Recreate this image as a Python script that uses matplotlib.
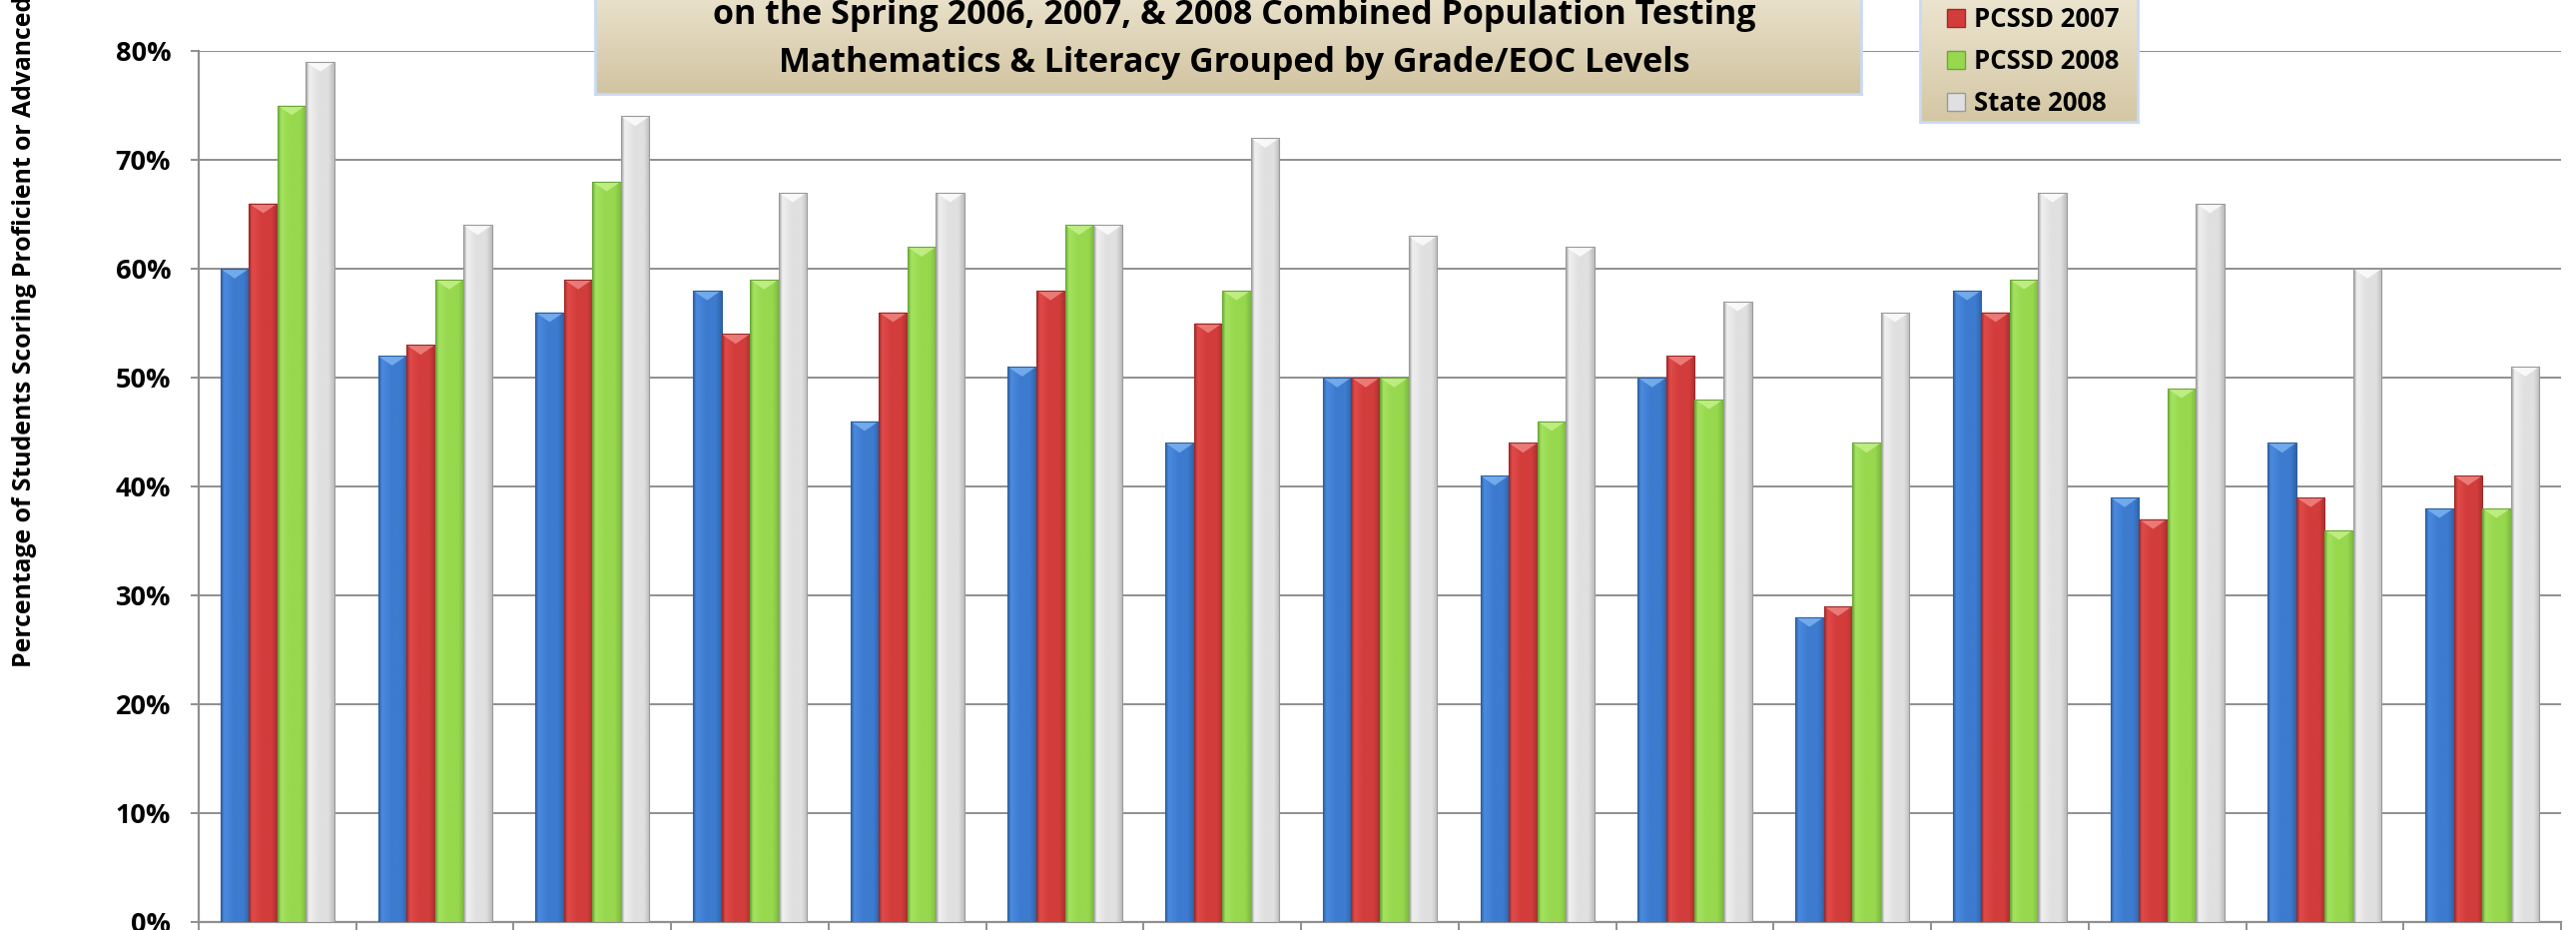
"""Grouped bar chart: PCSSD 2006/2007/2008 vs State 2008, percent proficient
or advanced, Mathematics & Literacy grouped by grade/EOC level."""

import matplotlib

matplotlib.use("Agg")

import matplotlib.pyplot as plt
import numpy as np
from matplotlib.colors import LinearSegmentedColormap, to_rgb
from matplotlib.patches import Polygon
from matplotlib.ticker import FixedLocator, PercentFormatter

# values, one entry per grade/EOC group (left to right)
pcssd_2006 = [60, 52, 56, 58, 46, 51, 44, 50, 41, 50, 28, 58, 39, 44, 38]
pcssd_2007 = [66, 53, 59, 54, 56, 58, 55, 50, 44, 52, 29, 56, 37, 39, 41]
pcssd_2008 = [75, 59, 68, 59, 62, 64, 58, 50, 46, 48, 44, 59, 49, 36, 38]
state_2008 = [79, 64, 74, 67, 67, 64, 72, 63, 62, 57, 56, 67, 66, 60, 51]

series_names = ["PCSSD 2006", "PCSSD 2007", "PCSSD 2008", "State 2008"]
series_values = [pcssd_2006, pcssd_2007, pcssd_2008, state_2008]
y_ticks = [0, 10, 20, 30, 40, 50, 60, 70, 80]

title_lines = [
    "on the Spring 2006, 2007, & 2008 Combined Population Testing",
    "Mathematics & Literacy Grouped by Grade/EOC Levels",
]
y_label = "Percentage of Students Scoring Proficient or Advanced"

# (edge, light, base, dark, bevel) shades per series for the bevelled bar look
bar_shades = [
    ("#2c5f9e", "#4a8ae0", "#3d7bcf", "#2f64a8", "#7fb6f2"),
    ("#9e2a2a", "#e04a48", "#d23d3c", "#a83130", "#f08a86"),
    ("#6aa83a", "#a4e25e", "#97d84e", "#7cbc3e", "#c8f28e"),
    ("#9a9a9a", "#f0f0f0", "#e0e0e0", "#bdbdbd", "#ffffff"),
]

FONT = ["Open Sans", "DejaVu Sans"]
W, H = 2580, 931


def shade_bar(ax, patch, shades):
    edge, light, base, dark, bevel = shades
    cmap = LinearSegmentedColormap.from_list(
        "bar", [(0, edge), (0.12, light), (0.45, base), (0.8, base), (1.0, dark)]
    )
    x0, y0 = patch.get_x(), patch.get_y()
    w, h = patch.get_width(), patch.get_height()
    grad = np.linspace(0, 1, 64).reshape(1, -1)
    im = ax.imshow(grad, cmap=cmap, aspect="auto", zorder=3,
                   extent=(x0, x0 + w, y0, y0 + h))
    im.set_clip_path(patch)
    # light chevron on the bar's top face
    top = y0 + h
    ax.add_patch(Polygon([(x0, top), (x0 + w, top), (x0 + w / 2, top - 0.9)],
                         closed=True, facecolor=bevel, edgecolor="none",
                         alpha=0.8, zorder=3.5))
    patch.set_facecolor("none")
    patch.set_edgecolor(edge)
    patch.set_linewidth(0.8)
    patch.set_zorder(4)


def gradient_box(fig, rect, top, bottom, border):
    box = fig.add_axes(rect, zorder=5)
    c0, c1 = np.array(to_rgb(top)), np.array(to_rgb(bottom))
    t = np.linspace(0, 1, 128).reshape(-1, 1, 1)
    box.imshow(c0 + (c1 - c0) * t, aspect="auto", extent=(0, 1, 0, 1))
    box.set_xticks([])
    box.set_yticks([])
    for spine in box.spines.values():
        spine.set_color(border)
        spine.set_linewidth(2)
    return box


fig = plt.figure(figsize=(W / 100, H / 100), dpi=100)
ax = fig.add_axes([199 / W, 8 / H, (2565 - 199) / W, (923 - 51) / H])

n = len(pcssd_2006)
x = np.arange(n)
width = 0.181
legend_handles = []
for i, (name, values, shades) in enumerate(zip(series_names, series_values, bar_shades)):
    bars = ax.bar(x + (i - 1.5) * width, values, width, label=name)
    for patch in bars:
        shade_bar(ax, patch, shades)
    legend_handles.append(
        plt.Rectangle((0, 0), 1, 1, facecolor=shades[2], edgecolor=shades[0], linewidth=1)
    )

ax.set_xlim(-0.5, n - 0.5)
ax.set_ylim(0, 80)
ax.yaxis.set_major_locator(FixedLocator(y_ticks))
ax.yaxis.set_major_formatter(PercentFormatter(decimals=0))
ax.xaxis.set_major_locator(FixedLocator(np.arange(-0.5, n, 1.0)))
ax.set_xticklabels([])
ax.grid(axis="y", color="#8f8f8f", linewidth=1.4, zorder=0)
ax.set_axisbelow(True)
for side in ("top", "right"):
    ax.spines[side].set_visible(False)
for side in ("left", "bottom"):
    ax.spines[side].set_color("#8f8f8f")
    ax.spines[side].set_linewidth(1.6)
ax.tick_params(axis="both", color="#8f8f8f", width=1.4, length=6)
ax.tick_params(axis="y", pad=14)
for lab in ax.get_yticklabels():
    lab.set_fontfamily(FONT)
    lab.set_fontweight("bold")
    lab.set_fontsize(19.5)

fig.text(25 / W, (H - 668) / H, y_label, rotation=90, ha="center", va="bottom",
         fontsize=17.8, fontweight="bold", family=FONT)

# title box, cut off at the top of the image
gradient_box(fig, [596 / W, 1 - 94 / H, (1864 - 596) / W, 94 / H + 0.06],
             "#f6f1e2", "#d2c4a1", "#c9daf2")
for k, line in enumerate(title_lines):
    fig.text(1236 / W, 1 - (15 + 48 * k) / H, line, ha="center", va="center",
             fontsize=24.5, fontweight="bold", family=FONT, zorder=6)

# legend box, also cut off at the top
gradient_box(fig, [1923 / W, 1 - 122 / H, (2141 - 1923) / W, 122 / H + 0.06],
             "#f6f1e2", "#d4c7a4", "#c9daf2")
leg = fig.legend(
    handles=legend_handles, labels=series_names, loc="upper left",
    bbox_to_anchor=(1927 / W, 1 + 60 / H), frameon=False,
    prop={"family": FONT, "weight": "bold", "size": 18.5},
    handlelength=0.7, handleheight=0.7, handletextpad=0.35, labelspacing=0.6,
)
leg.set_zorder(7)

fig.savefig("out.png", dpi=100)
